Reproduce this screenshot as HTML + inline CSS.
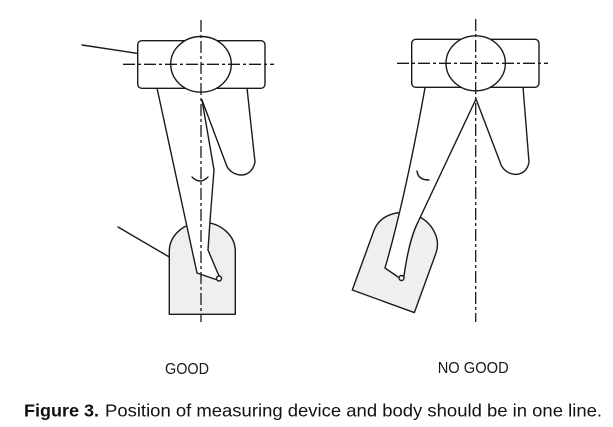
<!DOCTYPE html>
<html>
<head>
<meta charset="utf-8">
<style>
  html,body{margin:0;padding:0;background:#fff;}
  svg{display:block;}
</style>
</head>
<body>
<svg width="613" height="427" viewBox="0 0 613 427" xmlns="http://www.w3.org/2000/svg">
  <rect x="0" y="0" width="613" height="427" fill="#fff"/>

  <g fill="none" stroke="#1a1a1a" stroke-width="1.4" stroke-linejoin="round" stroke-linecap="round">
    <!-- ================= LEFT FIGURE (GOOD) ================= -->
    <!-- foot plate -->
    <path transform="translate(169.3,314.3)" d="M0,0 L66,0 L66,-63 A33,29 0 0 0 0,-63 Z" fill="#efefef"/>
    <!-- pointer lines -->
    <line x1="82" y1="45" x2="148" y2="55"/>
    <line x1="118" y1="227" x2="169.3" y2="257"/>
    <!-- front leg (white fill) -->
    <path d="M157,88 L197,273 L216,279.5 L219,277 Q212,262 208,250 Q210,230 212,200 Q214,178 214,170 L202,100 L210,88 Z" fill="#fff" stroke="none"/>
    <path d="M157,88 L197,273 L216,279.5"/>
    <path d="M219,276 L208,250 Q210,220 214,170 L202,100"/>
    <circle cx="219" cy="278.5" r="2.5" fill="#fff"/>
    <!-- back leg -->
    <path d="M202,100 L226,164 C230,177 251,181 255,162 L247,88"/>
    <!-- knee mark -->
    <path d="M192,177 Q200,185 208,177"/>
    <!-- pelvis box -->
    <rect x="137.7" y="40.7" width="127.3" height="47.6" rx="4" ry="4" fill="#fff"/>
    <ellipse cx="201" cy="64.3" rx="30.3" ry="27.8" fill="#fff"/>

    <!-- ================= RIGHT FIGURE (NO GOOD) ================= -->
    <path transform="translate(352.3,290) rotate(20)" d="M0,0 L66,0 L66,-63 A33,29 0 0 0 0,-63 Z" fill="#efefef"/>
    <!-- front leg fill -->
    <path d="M425,88 Q405,199 385,268 L398,277 L403,276 Q408,250 409,240 Q412,230 418,222 L476,99 L470,88 Z" fill="#fff" stroke="none"/>
    <path d="M425,88 Q405,199 385,268 L398,277"/>
    <path d="M476,99 L418,222 Q409,240 404,276"/>
    <circle cx="401.5" cy="278" r="2.5" fill="#fff"/>
    <!-- back leg -->
    <path d="M476,99 L500,162 C504,177 526,180 529,162 L523,87"/>
    <!-- knee mark -->
    <path d="M417,171 Q418,180 429,180"/>
    <!-- pelvis box -->
    <rect x="411.7" y="39.3" width="127.3" height="48" rx="4" ry="4" fill="#fff"/>
    <ellipse cx="475.7" cy="63.3" rx="29.7" ry="27.5" fill="#fff"/>
  </g>

  <!-- center lines (dash-dot) -->
  <g stroke="#1a1a1a" stroke-width="1.3" fill="none" stroke-dasharray="12,3,3,3">
    <line x1="201" y1="20" x2="201" y2="322"/>
    <line x1="123" y1="64.3" x2="274" y2="64.3"/>
    <line x1="475.7" y1="19" x2="475.7" y2="322"/>
    <line x1="397" y1="63.3" x2="548" y2="63.3"/>
  </g>

  <!-- labels -->
  <g font-family="'Liberation Sans', Arial, sans-serif" fill="#1a1a1a">
    <text x="165" y="374" font-size="15.5" textLength="44" lengthAdjust="spacingAndGlyphs">GOOD</text>
    <text x="437.7" y="373" font-size="15.5" textLength="71" lengthAdjust="spacingAndGlyphs">NO GOOD</text>
    <text x="24" y="416.5" font-size="17.5" font-weight="bold" textLength="75" lengthAdjust="spacingAndGlyphs" fill="#111">Figure 3.</text>
    <text x="105" y="416.5" font-size="17.5" textLength="497" lengthAdjust="spacingAndGlyphs" fill="#111">Position of measuring device and body should be in one line.</text>
  </g>
</svg>
</body>
</html>
